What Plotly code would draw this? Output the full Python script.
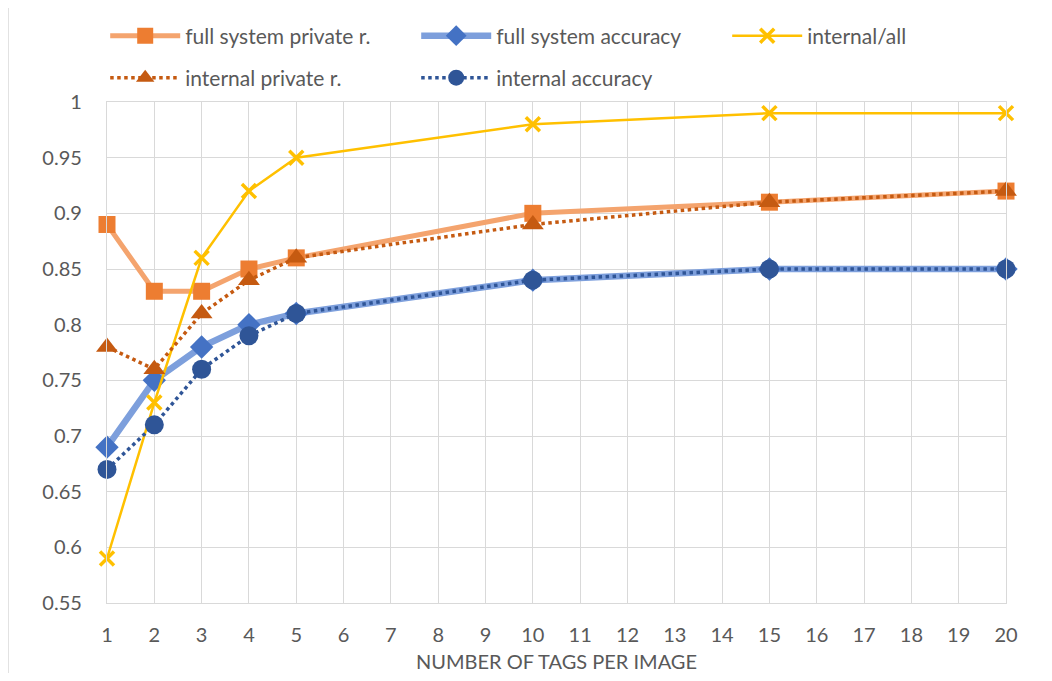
import plotly.graph_objects as go

x_vals = [1, 2, 3, 4, 5, 10, 15, 20]
full_private = [0.89, 0.83, 0.83, 0.85, 0.86, 0.90, 0.91, 0.92]
full_accuracy = [0.69, 0.75, 0.78, 0.80, 0.81, 0.84, 0.85, 0.85]
internal_all = [0.59, 0.73, 0.86, 0.92, 0.95, 0.98, 0.99, 0.99]
internal_private = [0.78, 0.76, 0.81, 0.84, 0.86, 0.89, 0.91, 0.92]
internal_accuracy = [0.67, 0.71, 0.76, 0.79, 0.81, 0.84, 0.85, 0.85]
x_ticks = list(range(1, 21))
y_ticks = [0.55, 0.6, 0.65, 0.7, 0.75, 0.8, 0.85, 0.9, 0.95, 1]

FONT = "Lato, Roboto, sans-serif"
TXT = "#595959"
GRID = "#D9D9D9"

# page offset (body margin) is 8px; plot area in page: x 107..1006, y 102..603
W, H = 1036, 665
ML, MR, MT, MB = 99, W + 8 - 1006, 94, H + 8 - 603
PW, PH = 1006 - 107, 603 - 102

fig = go.Figure()
fig.add_trace(go.Scatter(x=x_vals, y=full_private, name="full system private r.", mode="lines+markers",
                         legend="legend", cliponaxis=False,
                         line=dict(color="#F4A46E", width=5),
                         marker=dict(symbol="square", size=17, color="#ED7D31")))
fig.add_trace(go.Scatter(x=x_vals, y=full_accuracy, name="full system accuracy", mode="lines+markers",
                         legend="legend", cliponaxis=False,
                         line=dict(color="#7D9FDC", width=6.5),
                         marker=dict(symbol="diamond", size=18, color="#4472C4")))
fig.add_trace(go.Scatter(x=x_vals, y=internal_all, name="internal/all", mode="lines+markers",
                         legend="legend", cliponaxis=False,
                         line=dict(color="#FFC000", width=2.5),
                         marker=dict(symbol="x-thin", size=14, color="#FFC000",
                                     line=dict(color="#FFC000", width=3.5))))
fig.add_trace(go.Scatter(x=x_vals, y=internal_private, name="internal private r.", mode="lines+markers",
                         legend="legend2", cliponaxis=False,
                         line=dict(color="#C55A11", width=3.5, dash="dot"),
                         marker=dict(symbol="triangle-up", size=19, color="#C55A11")))
fig.add_trace(go.Scatter(x=x_vals, y=internal_accuracy, name="internal accuracy", mode="lines+markers",
                         legend="legend2", cliponaxis=False,
                         line=dict(color="#2F5597", width=3.5, dash="dot"),
                         marker=dict(symbol="circle", size=19, color="#2F5597")))

legend_common = dict(orientation="h", xanchor="left", yanchor="middle",
                     entrywidth=226, entrywidthmode="pixels", itemwidth=70,
                     font=dict(family=FONT, size=21, color=TXT), bgcolor="rgba(0,0,0,0)")

fig.update_layout(
    width=W, height=H,
    margin=dict(l=ML, r=MR, t=MT, b=MB, autoexpand=False),
    plot_bgcolor="white", paper_bgcolor="white",
    font=dict(family=FONT, color=TXT, size=20),
    showlegend=True,
    legend=dict(x=-0.002, y=1 + (102 - 36) / PH, **legend_common),
    legend2=dict(x=-0.002, y=1 + (102 - 78) / PH, **legend_common),
    xaxis=dict(range=[1, 20], tickvals=x_ticks, ticktext=[str(v) for v in x_ticks],
               showgrid=True, gridcolor=GRID, gridwidth=1.3, zeroline=False,
               showline=True, linecolor=GRID, linewidth=1.3, mirror=True,
               ticks="", tickfont=dict(size=20, color=TXT), ticklabelstandoff=14,
               title=dict(text="NUMBER OF TAGS PER IMAGE", font=dict(size=20, color=TXT), standoff=12)),
    yaxis=dict(range=[0.55, 1.0], tickvals=y_ticks, ticktext=[f"{v:g}" for v in y_ticks],
               showgrid=True, gridcolor=GRID, gridwidth=1.3, zeroline=False,
               showline=True, linecolor=GRID, linewidth=1.3, mirror=True,
               ticks="", tickfont=dict(size=20, color=TXT), ticklabelstandoff=20),
)

# outer chart border (only left and top visible in the cropped reference)
bx = (8 - 107) / PW
by = 1 + (102 - 7) / PH
fig.add_shape(type="line", xref="paper", yref="paper", x0=bx, x1=bx, y0=-1, y1=by,
              line=dict(color=GRID, width=1.5))
fig.add_shape(type="line", xref="paper", yref="paper", x0=bx, x1=2, y0=by, y1=by,
              line=dict(color=GRID, width=1.5))

fig.write_html("out.html")
